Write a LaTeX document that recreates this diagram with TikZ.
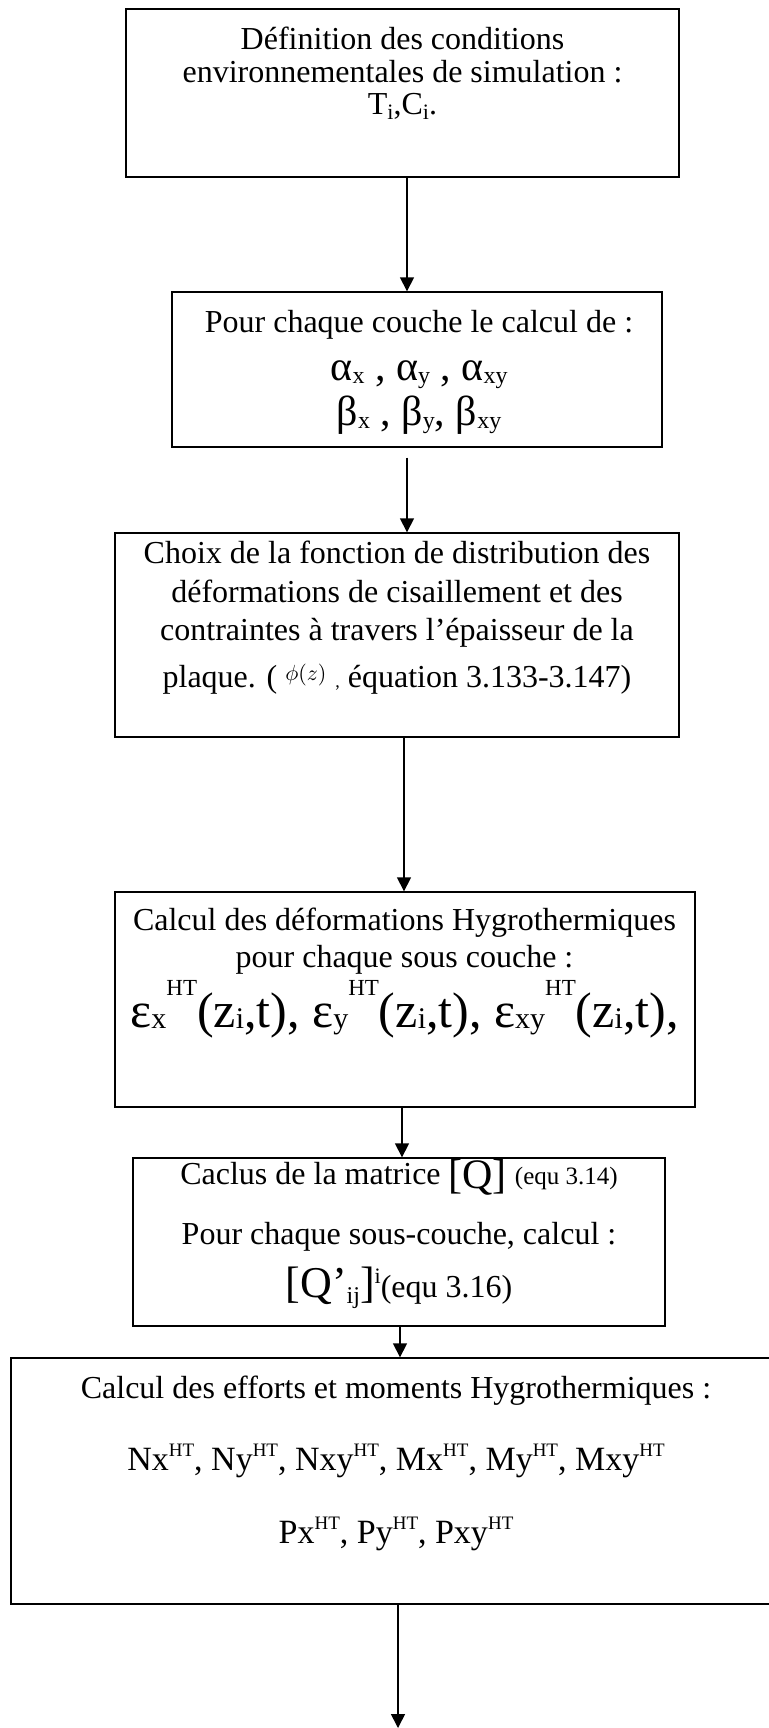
\documentclass[tikz,border=0pt]{standalone}
\usepackage{fontspec}
\setmainfont{Liberation Serif}
\usetikzlibrary{arrows.meta}
% raised or lowered small index: shift, size, text
\newcommand{\idx}[3]{\raisebox{#1}{\fontsize{#2}{#2}\selectfont #3}}
\newcommand{\fs}[1]{\fontsize{#1}{#1}\selectfont}
\newcommand{\hts}{\idx{7pt}{9.5}{HT}}
\newcommand{\htb}{\idx{16pt}{11.5}{HT}}

\begin{document}
\begin{tikzpicture}[x=0.5pt, y=-0.5pt,
    box/.style={draw, line width=0.7pt, inner sep=0pt},
    txt/.style={anchor=base, inner sep=0pt, font=\fontsize{16}{19}\selectfont},
    arr/.style={line width=0.8pt, -{Triangle[width=7pt, length=7pt]}}]
    \useasboundingbox (0,0) rectangle (769,1728);
    % Conditions
    \node[box, minimum width=276.5pt, minimum height=84pt] (b1) at (402.5,93) {};
    \node[txt] (t1a) at (402.5,50) {Définition des conditions};
    \node[txt] (t1b) at (402.5,83) {environnementales de simulation :};
    \node[txt] (t1c) at (402.5,115) {T\idx{-2.5pt}{11}{i},C\idx{-2.5pt}{11}{i}.};
    % Coefficients
    \node[box, minimum width=245pt, minimum height=77.5pt] (b2) at (417,369.5) {};
    \node[txt] (t2a) at (419,332) {Pour chaque couche le calcul de :};
    \node[txt] (t2b) at (419,380) {\fs{21}α\idx{-1.5pt}{12}{x} , α\idx{-1.5pt}{12}{y} , α\idx{-1.5pt}{12}{xy}};
    \node[txt] (t2c) at (419,425) {\fs{21}β\idx{-1.5pt}{12}{x} , β\idx{-1.5pt}{12}{y}, β\idx{-1.5pt}{12}{xy}};
    % Distribution function
    \node[box, minimum width=282pt, minimum height=102pt] (b3) at (397,635) {};
    \node[txt] (t3a) at (397,563) {Choix de la fonction de distribution des};
    \node[txt] (t3b) at (397,602) {déformations de cisaillement et des};
    \node[txt] (t3c) at (397,640) {contraintes à travers l’épaisseur de la};
    \node[txt] (t3d) at (397,687) {plaque. (\hspace{4pt}\raisebox{3.5pt}{\fs{11}$\phi(z)$}\;\idx{0pt}{9}{,} équation 3.133-3.147)};
    % Strains
    \node[box, minimum width=290pt, minimum height=107.5pt] (b4) at (405,999.5) {};
    \node[txt] (t4a) at (404.5,930) {Calcul des déformations Hygrothermiques};
    \node[txt] (t4b) at (404.5,967) {pour chaque sous couche :};
    \node[txt] (t4c) at (404.5,1027) {\fs{25}ε\idx{-0.5pt}{15}{x}\htb(z\idx{-0.5pt}{15}{i},t), ε\idx{-0.5pt}{15}{y}\htb(z\idx{-0.5pt}{15}{i},t), ε\idx{-0.5pt}{15}{xy}\htb(z\idx{-0.5pt}{15}{i},t),};
    % Stiffness matrix
    \node[box, minimum width=266pt, minimum height=84pt] (b5) at (399,1242) {};
    \node[txt] (t5a) at (399,1184) {Caclus de la matrice \raisebox{-2pt}{\fs{21}[Q]} {\fs{12.5}(equ 3.14)}};
    \node[txt] (t5b) at (399,1244) {Pour chaque sous-couche, calcul :};
    \node[txt] (t5c) at (399,1297) {{\fs{22}[Q’}\idx{-3pt}{12}{ij}{\fs{22}]}\idx{7pt}{11}{i}(equ 3.16)};
    % Forces and moments
    \node[box, minimum width=387pt, minimum height=123pt] (b6) at (398,1481) {};
    \node[txt] (t6a) at (396,1398) {Calcul des efforts et moments Hygrothermiques :};
    \node[txt] (t6b) at (396,1470) {\fs{17}Nx\hts, Ny\hts , Nxy\hts, Mx\hts, My\hts, Mxy\hts};
    \node[txt] (t6c) at (396,1543) {\fs{17}Px\hts, Py\hts, Pxy\hts};
    \coordinate (out) at (398,1728);
    % Arrows
    \draw[arr] ([xshift=2.25pt]b1.south) -- ([xshift=-5pt]b2.north);
    \draw[arr] ([xshift=-5pt, yshift=-5pt]b2.south) -- ([xshift=5pt]b3.north);
    \draw[arr] ([xshift=3.5pt]b3.south) -- ([xshift=-0.5pt]b4.north);
    \draw[arr] ([xshift=-1.5pt]b4.south) -- ([xshift=1.5pt]b5.north);
    \draw[arr] ([xshift=0.5pt]b5.south) -- ([xshift=1pt]b6.north);
    \draw[arr] (b6.south) -- (out);
\end{tikzpicture}
\end{document}
